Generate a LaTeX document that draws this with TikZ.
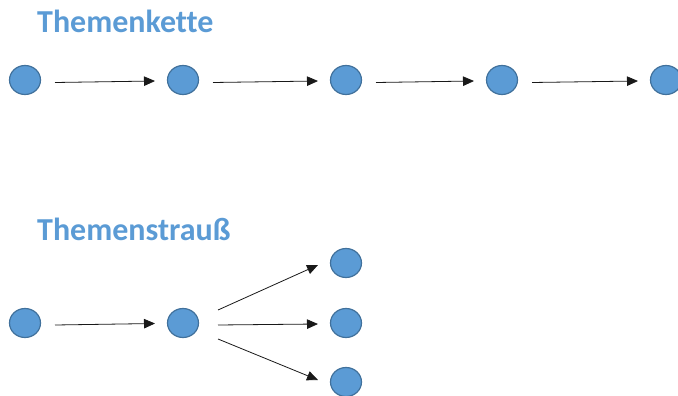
\documentclass[tikz,border=0pt]{standalone}
\usepackage{fontspec}
\setmainfont{Carlito}[Ligatures=NoCommon]
\usetikzlibrary{arrows.meta,calc,shapes.geometric}
\definecolor{dotfill}{HTML}{5B9BD5}
\definecolor{dotline}{HTML}{41719C}
\definecolor{titleblue}{HTML}{5B9BD5}
\tikzset{
  dot/.style={ellipse, draw=dotline, fill=dotfill, line width=1.2pt,
    minimum width=31pt, minimum height=29pt, inner sep=0pt},
  heading/.style={anchor=base west, inner sep=0pt, text=titleblue,
    font=\fontsize{32}{38}\selectfont\bfseries},
  link/.style={-{Triangle[length=11pt,width=9.5pt]}, line width=0.8pt, black!90}
}
\begin{document}
\begin{tikzpicture}[x=1pt,y=-1pt]
\useasboundingbox (0,0) rectangle (678,396);

% chain of topics
\node[heading] (t1) at (37,33) {Themenkette};
\node[dot] (k1) at (25,80) {};
\node[dot] (k2) at (183,80) {};
\node[dot] (k3) at (346,80) {};
\node[dot] (k4) at (502,80) {};
\node[dot] (k5) at (666,80) {};
\foreach \a/\b in {k1/k2,k2/k3,k3/k4,k4/k5}
  \draw[link] ($(\a)+(30,2.5)$) -- ($(\b)+(-28,1)$);

% bundle of topics
\node[heading] (t2) at (37,240) {Themenstrauß};
\node[dot] (s1) at (25,323) {};
\node[dot] (s2) at (183,323) {};
\node[dot] (r1) at (346,263) {};
\node[dot] (r2) at (346,323) {};
\node[dot] (r3) at (346,382) {};
\draw[link] ($(s1)+(30,2)$) -- ($(s2)+(-28,0.5)$);
\draw[link] ($(s2)+(35,-13)$) -- ($(r1)+(-28,2)$);
\draw[link] ($(s2)+(35,2)$) -- ($(r2)+(-28,1)$);
\draw[link] ($(s2)+(35,16)$) -- ($(r3)+(-28,-2)$);
\end{tikzpicture}
\end{document}
